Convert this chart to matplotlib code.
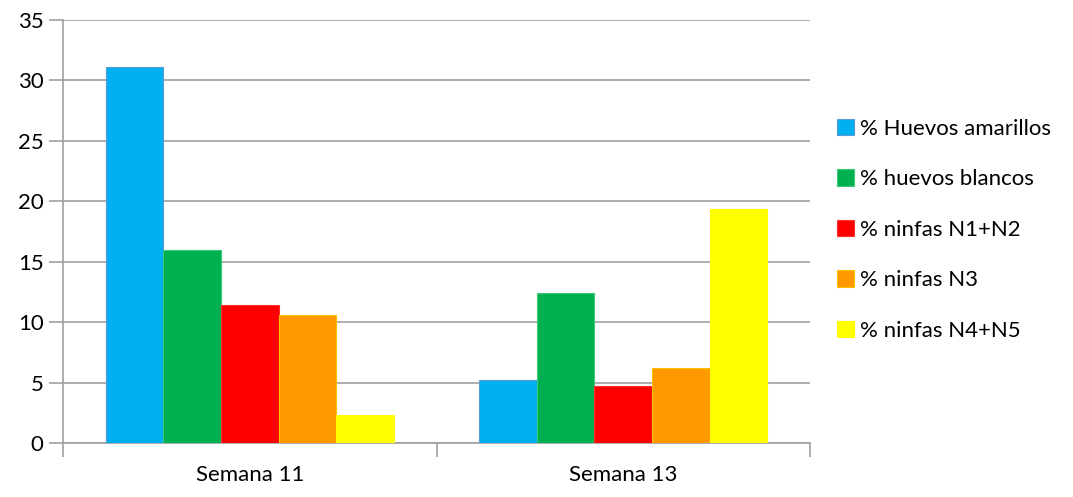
import matplotlib
matplotlib.use("Agg")
import matplotlib.pyplot as plt
import numpy as np

categories = ["Semana 11", "Semana 13"]
series_names = ["% Huevos amarillos", "% huevos blancos", "% ninfas N1+N2",
                "% ninfas N3", "% ninfas N4+N5"]
huevos_amarillos = [31.1, 5.2]
huevos_blancos = [16.0, 12.4]
ninfas_n1n2 = [11.4, 4.7]
ninfas_n3 = [10.6, 6.2]
ninfas_n4n5 = [2.3, 19.4]
yticks = [0, 5, 10, 15, 20, 25, 30, 35]

series = [huevos_amarillos, huevos_blancos, ninfas_n1n2, ninfas_n3, ninfas_n4n5]
colors = ["#00B0F0", "#00B050", "#FF0000", "#FF9900", "#FFFF00"]
edges = ["#5B9BD5", "#3CC878", "#FF3030", "#FFC000", "#FFFF00"]

plt.rcParams['font.family'] = ['Lato', 'DejaVu Sans']
fig = plt.figure(figsize=(10.73, 4.97), dpi=100)
ax = fig.add_axes([63/1073, 1-443/497, (810-63)/1073, (443-20)/497])

x = np.arange(len(categories))
w = 0.154
n = len(series)
for i, (vals, c, ec, name) in enumerate(zip(series, colors, edges, series_names)):
    ax.bar(x + (i - (n-1)/2)*w, vals, width=w, color=c, edgecolor=ec,
           linewidth=0.8, label=name, zorder=3)

ax.set_xlim(-0.5, 1.5)
ax.set_ylim(0, 35)
ax.set_yticks(yticks)
ax.yaxis.grid(True, color="#A0A0A0", linewidth=1.2, zorder=0)
ax.set_xticks(x)
ax.set_xticklabels(categories)
ax.set_xticks([-0.5, 0.5, 1.5], minor=True)
ax.tick_params(axis='x', which='major', length=0, pad=16, labelsize=16)
ax.tick_params(axis='x', which='minor', length=10, color="#A0A0A0", width=1.2)
ax.tick_params(axis='y', length=10, color="#A0A0A0", width=1.2, labelsize=16, pad=4)
for s in ["top", "right"]:
    ax.spines[s].set_visible(False)
for s in ["left", "bottom"]:
    ax.spines[s].set_color("#A0A0A0")
    ax.spines[s].set_linewidth(1.2)

handles, labels = ax.get_legend_handles_labels()
leg = fig.legend(handles, labels, loc="upper left", bbox_to_anchor=(828/1073, 1-110/497),
                 frameon=False, fontsize=16, handlelength=0.75, handleheight=0.75,
                 handletextpad=0.3, labelspacing=1.37, borderaxespad=0)

fig.savefig("out.png", dpi=100)
